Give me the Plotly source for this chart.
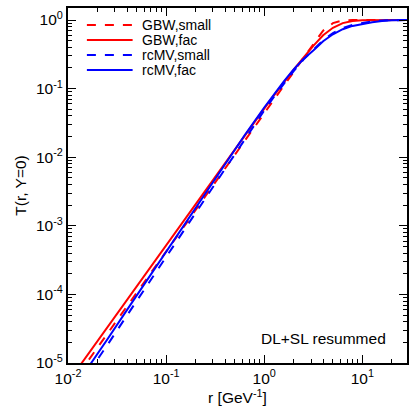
import plotly.graph_objects as go

# log10(r) sample points
logr = [-2.0, -1.8, -1.6, -1.4, -1.2, -1.0, -0.8, -0.6, -0.4, -0.2, 0.0, 0.1, 0.2,
        0.3, 0.4, 0.5, 0.6, 0.7, 0.8, 0.9, 1.0, 1.1, 1.2, 1.3, 1.46]
r_vals = [10 ** v for v in logr]

gbw_small = [4.2e-6, 1.05e-5, 2.65e-5, 6.6e-5, 1.66e-4, 4.2e-4, 1.06e-3, 2.7e-3, 6.8e-3,
             0.0172, 0.0435, 0.068, 0.106, 0.175, 0.28, 0.45, 0.70, 0.90, 0.985, 1.0,
             1.0, 1.0, 1.0, 1.0, 1.0]
gbw_fac = [5.25e-6, 1.32e-5, 3.31e-5, 8.32e-5, 2.09e-4, 5.25e-4, 1.318e-3, 3.31e-3, 8.29e-3,
           0.0207, 0.0511, 0.0798, 0.1236, 0.1886, 0.282, 0.42, 0.60, 0.77, 0.90, 0.968,
           0.995, 0.9998, 1.0, 1.0, 1.0]
rcmv_small = [2.65e-6, 6.9e-6, 1.82e-5, 4.9e-5, 1.31e-4, 3.5e-4, 9.4e-4, 2.5e-3, 6.8e-3,
              0.0185, 0.048, 0.076, 0.118, 0.18, 0.265, 0.37, 0.51, 0.645, 0.76, 0.85,
              0.91, 0.955, 0.985, 0.998, 1.0]
rcmv_fac = [3.2e-6, 8.3e-6, 2.2e-5, 5.9e-5, 1.58e-4, 4.17e-4, 1.12e-3, 2.95e-3, 7.9e-3,
            0.0209, 0.053, 0.083, 0.127, 0.19, 0.27, 0.36, 0.49, 0.62, 0.735, 0.82,
            0.875, 0.925, 0.965, 0.99, 1.0]

series = [
    ("GBW,small", gbw_small, "#ff0000", "dash"),
    ("GBW,fac", gbw_fac, "#ff0000", "solid"),
    ("rcMV,small", rcmv_small, "#0000ff", "dash"),
    ("rcMV,fac", rcmv_fac, "#0000ff", "solid"),
]

x_ticks = [0.01, 0.1, 1, 10]
x_labels = ["10<sup>-2</sup>", "10<sup>-1</sup>", "10<sup>0</sup>", "10<sup>1</sup>"]
y_ticks = [1e-5, 1e-4, 1e-3, 1e-2, 1e-1, 1]
y_labels = ["10<sup>-5</sup>", "10<sup>-4</sup>", "10<sup>-3</sup>", "10<sup>-2</sup>",
            "10<sup>-1</sup>", "10<sup>0</sup>"]

x_minor = [m * 10 ** e for e in range(-2, 2) for m in range(2, 10)]
y_minor = [m * 10 ** e for e in range(-5, 1) for m in range(2, 10)]

FONT = "Liberation Sans, Arial, sans-serif"
FS = 15.5
FS_LEG = 14

fig = go.Figure()
for name, vals, color, dash in series:
    fig.add_trace(go.Scatter(x=r_vals, y=vals, mode="lines", name=name,
                             line=dict(color=color, width=2, dash=dash),
                             showlegend=False))

# manual legend in paper coordinates
leg_y = [25, 40, 55, 70]
W, H = 410, 411
L, R, T, B = 68, 1, 8, 48
pw, ph = W - L - R, H - T - B
for (name, vals, color, dash), yy in zip(series, leg_y):
    yp = 1 - (yy - T) / ph
    x0 = (87 - L) / pw
    x1 = (133 - L) / pw
    fig.add_shape(type="line", xref="paper", yref="paper", x0=x0, x1=x1, y0=yp, y1=yp,
                  line=dict(color=color, width=2, dash=dash))
    fig.add_annotation(xref="paper", yref="paper", x=(140 - L) / pw, y=yp, text=name,
                       showarrow=False, xanchor="left", yanchor="middle",
                       font=dict(size=FS_LEG, color="black", family=FONT))

fig.add_annotation(xref="paper", yref="paper", x=(390 - L) / pw, y=1 - (338 - T) / ph,
                   text="DL+SL resummed", showarrow=False, xanchor="right",
                   yanchor="middle", font=dict(size=FS, color="black", family=FONT))

axis_common = dict(showline=True, linewidth=2, linecolor="black", mirror="allticks",
                   ticks="inside", ticklen=8, tickwidth=1, tickcolor="black",
                   showgrid=False, zeroline=False,
                   tickfont=dict(size=FS, color="black", family=FONT))

fig.update_xaxes(type="log", range=[-2, 1.455], tickvals=x_ticks, ticktext=x_labels,
                 minor=dict(tickvals=x_minor, ticks="inside", ticklen=4, tickwidth=1,
                            tickcolor="black", showgrid=False),
                 title=dict(text="r [GeV<sup>-1</sup>]", standoff=4,
                            font=dict(size=FS, color="black", family=FONT)),
                 **axis_common)
fig.update_yaxes(type="log", range=[-5, 0.175], tickvals=y_ticks, ticktext=y_labels,
                 minor=dict(tickvals=y_minor, ticks="inside", ticklen=4, tickwidth=1,
                            tickcolor="black", showgrid=False),
                 title=dict(text="T(r, Y=0)", standoff=6,
                            font=dict(size=FS, color="black", family=FONT)),
                 **axis_common)

fig.update_layout(width=W, height=H, margin=dict(l=L, r=R, t=T, b=B),
                  paper_bgcolor="white", plot_bgcolor="white",
                  font=dict(family=FONT, color="black"), showlegend=False)

fig.write_html("out.html")
